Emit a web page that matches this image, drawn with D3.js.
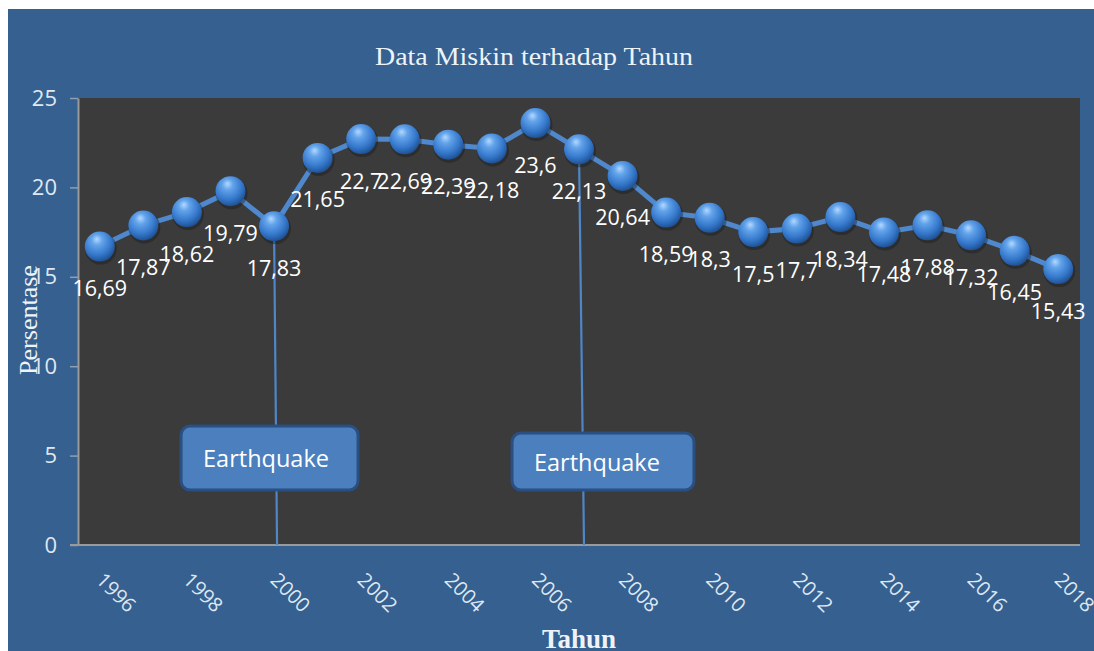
<!DOCTYPE html>
<html><head><meta charset="utf-8">
<script src="https://cdn.jsdelivr.net/npm/d3@7"></script>
<style>html,body{margin:0;padding:0;background:#fff;}svg{display:block;}</style>
</head><body>
<svg id="chart" width="1094" height="651"></svg>
<script>
const years = [1996,1997,1998,1999,2000,2001,2002,2003,2004,2005,2006,2007,2008,2009,2010,2011,2012,2013,2014,2015,2016,2017,2018];
const values = [16.69,17.87,18.62,19.79,17.83,21.65,22.7,22.69,22.39,22.18,23.6,22.13,20.64,18.59,18.3,17.5,17.7,18.34,17.48,17.88,17.32,16.45,15.43];
const labels = ["16,69","17,87","18,62","19,79","17,83","21,65","22,7","22,69","22,39","22,18","23,6","22,13","20,64","18,59","18,3","17,5","17,7","18,34","17,48","17,88","17,32","16,45","15,43"];
const xTickYears = [1996,1998,2000,2002,2004,2006,2008,2010,2012,2014,2016,2018];
const yTicks = [0,5,10,15,20,25];
const annotYears = [2000, 2007];
const annotTexts = ["Earthquake","Earthquake"];
const titleText = "Data Miskin terhadap Tahun";
const xTitle = "Tahun";
const yTitle = "Persentase";

const svg = d3.select("#chart");
const W = 1094, H = 651;
const plot = {left:78, right:1080, top:98, bottom:545};

// background
svg.append("rect").attr("x",8).attr("y",9).attr("width",W-8).attr("height",H-9).attr("fill","#36608f");
svg.append("rect").attr("x",plot.left).attr("y",plot.top).attr("width",plot.right-plot.left).attr("height",plot.bottom-plot.top).attr("fill","#3b3b3b");

const x = d3.scalePoint().domain(years).range([plot.left, plot.right]).padding(0.5);
const y = d3.scaleLinear().domain([0,25]).range([plot.bottom, plot.top]);

const defs = svg.append("defs");
const g = defs.append("radialGradient").attr("id","ball").attr("cx","42%").attr("cy","35%").attr("r","65%").attr("fx","40%").attr("fy","25%");
g.append("stop").attr("offset","0%").attr("stop-color","#b3d8ff");
g.append("stop").attr("offset","28%").attr("stop-color","#62a3ea");
g.append("stop").attr("offset","70%").attr("stop-color","#3679cc");
g.append("stop").attr("offset","100%").attr("stop-color","#1f5296");

// y axis
const yAxis = d3.axisLeft(y).tickValues(yTicks).tickSize(8).tickSizeOuter(0).tickPadding(13);
const ya = svg.append("g").attr("transform",`translate(${plot.left},0)`).call(yAxis);
ya.select(".domain").attr("stroke","#9a9a9a").attr("stroke-width",2);
ya.selectAll(".tick line").attr("stroke","#8d9fb5").attr("stroke-width",1.5);
ya.selectAll(".tick text").attr("fill","#dfe8f2").attr("font-family","Open Sans").attr("font-size",22);

// x axis
const xAxis = d3.axisBottom(x).tickValues(xTickYears).tickSize(0).tickSizeOuter(0);
const xa = svg.append("g").attr("transform",`translate(0,${plot.bottom})`).call(xAxis);
xa.select(".domain").attr("stroke","#9a9a9a").attr("stroke-width",2).attr("d",`M${plot.left-8},0H${plot.right}`);
xa.selectAll(".tick text").attr("fill","#dfe8f2").attr("font-family","Open Sans").attr("font-size",20)
  .attr("text-anchor","start").attr("dy",null).attr("y",null)
  .attr("transform","translate(0,31) rotate(45)").attr("dominant-baseline","central");

// callout lines
annotYears.forEach((yr,i)=>{
  const idx = years.indexOf(yr);
  const px = x(yr), py = y(values[idx]);
  svg.append("line").attr("x1",px).attr("y1",py).attr("x2",px+3+i*2).attr("y2",plot.bottom)
    .attr("stroke","#4f86c8").attr("stroke-width",2.2);
});

// line
svg.append("path").datum(values)
  .attr("d", d3.line().x((d,i)=>x(years[i])).y(d=>y(d)))
  .attr("fill","none").attr("stroke","#4f88cc").attr("stroke-width",5);

// balls
const balls = svg.append("g");
balls.selectAll("circle.sh").data(values).join("circle").attr("class","sh")
  .attr("cx",(d,i)=>x(years[i])+1).attr("cy",d=>y(d)+2).attr("r",16).attr("fill","#1a1a1a").attr("opacity",0.4);
balls.selectAll("circle.b").data(values).join("circle").attr("class","b")
  .attr("cx",(d,i)=>x(years[i])).attr("cy",d=>y(d)).attr("r",15).attr("fill","url(#ball)");

// callout boxes
const boxOffsets = [{dx:-93,w:177,y:426,h:64},{dx:-67,w:182,y:433,h:57}];
annotYears.forEach((yr,i)=>{
  const px = x(yr);
  const b = boxOffsets[i];
  svg.append("rect").attr("x",px+b.dx).attr("y",b.y).attr("width",b.w).attr("height",b.h)
    .attr("rx",9).attr("fill","#4b7fbe").attr("stroke","#2a4f80").attr("stroke-width",3);
  svg.append("text").attr("x",px+b.dx+22).attr("y",b.y+b.h/2).attr("dominant-baseline","central")
    .attr("fill","#ffffff").attr("font-family","Open Sans").attr("font-size",23.5).text(annotTexts[i]);
});

// data labels
svg.append("g").selectAll("text").data(values).join("text")
  .attr("x",(d,i)=>x(years[i])).attr("y",d=>y(d)+41)
  .attr("text-anchor","middle").attr("dominant-baseline","central")
  .attr("fill","#ffffff").attr("font-family","Open Sans").attr("font-size",21.5)
  .text((d,i)=>labels[i]);

// titles
svg.append("text").attr("x",534).attr("y",65).attr("text-anchor","middle")
  .attr("font-family","Liberation Serif").attr("font-size",26).attr("fill","#eef3f8")
  .attr("textLength",318).attr("lengthAdjust","spacingAndGlyphs").text(titleText);
svg.append("text").attr("x",579).attr("y",648).attr("text-anchor","middle")
  .attr("font-family","Liberation Serif").attr("font-weight","bold").attr("font-size",27).attr("fill","#eef3f8").text(xTitle);
svg.append("text").attr("transform","translate(37,320) rotate(-90)").attr("text-anchor","middle")
  .attr("font-family","Liberation Serif").attr("font-size",26).attr("fill","#eef3f8").text(yTitle);
</script>
</body></html>
